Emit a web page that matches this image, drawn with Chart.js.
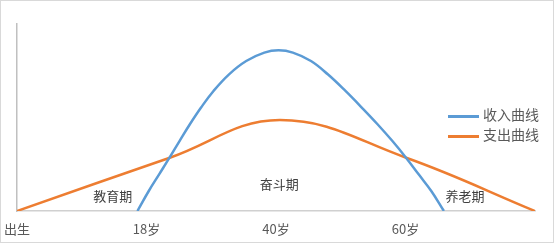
<!DOCTYPE html>
<html>
<head>
<meta charset="utf-8">
<script src="https://cdn.jsdelivr.net/npm/chart.js@4/dist/chart.umd.min.js"></script>
<style>
    html, body { margin: 0; padding: 0; background: #fff; }
    #wrap {
        position: relative; width: 554px; height: 243px;
        box-sizing: border-box; border: 1px solid #d9d9d9;
        font-family: "Noto Sans CJK SC", "Noto Sans", sans-serif;
    }
    #lifeChart { position: absolute; left: -1px; top: -1px; }
    .legend { position: absolute; left: 447px; top: 103px; font-size: 14px; color: #595959; }
    .legend div { height: 20px; line-height: 20px; white-space: nowrap; }
    .legend span.swatch { display: inline-block; width: 31px; height: 3px; vertical-align: middle; margin-right: 4px; }
</style>
</head>
<body>
<div id="wrap">
    <canvas id="lifeChart" width="554" height="243"></canvas>
    <div class="legend" id="legend"></div>
</div>
<script>
// axis labels (bottom) and series names
const tickLabels = ['出生', '18岁', '40岁', '60岁', ''];
const seriesNames = ['收入曲线', '支出曲线'];
const phaseNames = ['教育期', '奋斗期', '养老期'];

// income curve
const incomeX = [18.6, 20.35, 21.95, 23.55, 25.1, 26.7, 28.4, 30.35, 32.75, 35.4, 38.2, 40.4,
                 42.6, 45.4, 48.0, 50.73, 53.28, 55.68, 57.98, 60.08, 62.03, 63.98, 65.93];
const incomeY = [0, 10.7, 19.6, 28.5, 37.4, 46.4, 55.2, 64.2, 73.1, 80.2, 84.7, 85.9,
                 84.7, 80.2, 73.1, 64.2, 55.2, 46.4, 37.4, 28.5, 19.6, 10.7, 0];

// expense curve
const expenseX = [0, 23.6, 40.6, 60.1, 80];
const expenseY = [0, 28.5, 48.6, 28.5, 0];

const colors = ['#5B9BD5', '#ED7D31'];

function toPoints(xs, ys) {
    return xs.map((x, i) => ({ x: x, y: ys[i] }));
}

// where the phase names sit (data coords)
const phaseAnchors = [[14.8, 8.0], [40.5, 14.4], [69.2, 8.0]];

const phasePlugin = {
    id: 'phaseLabels',
    afterDatasetsDraw(chart) {
        const ctx = chart.ctx;
        const xs = chart.scales.x, ys = chart.scales.y;
        ctx.save();
        ctx.font = '13px "Noto Sans CJK SC", sans-serif';
        ctx.fillStyle = '#404040';
        ctx.textAlign = 'center';
        ctx.textBaseline = 'middle';
        phaseNames.forEach((name, i) => {
            ctx.fillText(name, xs.getPixelForValue(phaseAnchors[i][0]), ys.getPixelForValue(phaseAnchors[i][1]));
        });
        ctx.restore();
    }
};

const ctx = document.getElementById('lifeChart').getContext('2d');
const lifeChart = new Chart(ctx, {
    type: 'scatter',
    data: {
        datasets: [
            {
                label: seriesNames[0],
                data: toPoints(incomeX, incomeY),
                borderColor: colors[0],
                backgroundColor: colors[0],
                borderWidth: 2.5,
                showLine: true,
                pointRadius: 0,
                tension: 0.4
            },
            {
                label: seriesNames[1],
                data: toPoints(expenseX, expenseY),
                borderColor: colors[1],
                backgroundColor: colors[1],
                borderWidth: 2.5,
                showLine: true,
                pointRadius: 0,
                tension: 0.4
            }
        ]
    },
    options: {
        responsive: false,
        animation: false,
        layout: { padding: { top: 24, right: 19, left: 0, bottom: 0 } },
        plugins: {
            legend: { display: false },
            tooltip: { enabled: false }
        },
        scales: {
            x: {
                type: 'linear',
                min: 0,
                max: 80,
                grid: { display: false },
                border: { display: true, color: '#d0d0d0', width: 1.5 },
                afterFit: scale => { scale.height = 32; },
                ticks: {
                    stepSize: 20,
                    padding: 2,
                    color: '#595959',
                    font: { size: 13, family: '"Noto Sans CJK SC", sans-serif' },
                    maxRotation: 0,
                    callback: (value) => tickLabels[Math.round(value / 20)]
                }
            },
            y: {
                min: 0,
                max: 100,
                grid: { display: false },
                border: { display: true, color: '#c0c0c0', width: 1.5 },
                ticks: { display: false },
                afterFit: scale => { scale.width = 17; }
            }
        }
    },
    plugins: [phasePlugin]
});

// html legend
const legendEl = document.getElementById('legend');
seriesNames.forEach((name, i) => {
    const row = document.createElement('div');
    row.innerHTML = '<span class="swatch" style="background:' + colors[i] + '"></span>' + name;
    legendEl.appendChild(row);
});
</script>
</body>
</html>
